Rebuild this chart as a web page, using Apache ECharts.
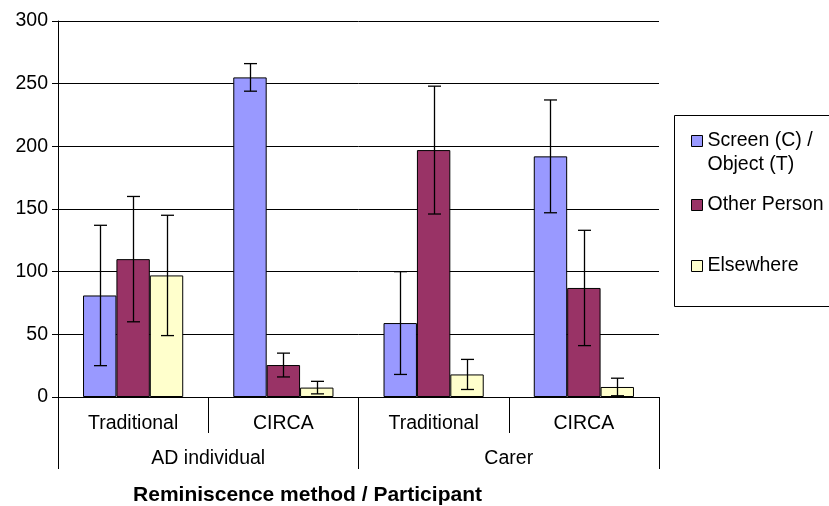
<!DOCTYPE html>
<html>
<head>
<meta charset="utf-8">
<script src="https://cdn.jsdelivr.net/npm/echarts@6/dist/echarts.min.js"></script>
<style>
html,body{margin:0;padding:0;background:#fff;}
#chart{width:829px;height:506px;}
</style>
</head>
<body>
<div id="chart"></div>
<script>
// ---- data ----
const methods = ['Traditional', 'CIRCA', 'Traditional', 'CIRCA'];
const participants = ['AD individual', 'Carer'];
const seriesNames = ['Screen (C) /\nObject (T)', 'Other Person', 'Elsewhere'];
const screenMean = [81, 255, 59, 192];
const screenErr  = [56, 11, 41, 45];
const otherMean  = [110, 25.5, 197, 87];
const otherErr   = [50, 9.5, 51, 46];
const elseMean   = [97, 7.5, 18, 8];
const elseErr    = [48, 5, 12, 7];
const yTicks = [0, 50, 100, 150, 200, 250, 300];
const xTitle = 'Reminiscence method / Participant';

const colors = ['#9999FF', '#993366', '#FFFFCC'];
const means = [screenMean, otherMean, elseMean];
const errs = [screenErr, otherErr, elseErr];

const FONT = 'Liberation Sans, Arial, sans-serif';
const FS = 19.5;

const errData = [];
means.forEach((m, s) => {
  m.forEach((v, j) => {
    errData.push([j, v - errs[s][j], v + errs[s][j], s]);
  });
});

const chart = echarts.init(document.getElementById('chart'), null, {renderer: 'canvas'});

const barSeries = means.map((m, s) => ({
  name: seriesNames[s],
  type: 'bar',
  xAxisIndex: 0,
  yAxisIndex: 0,
  data: m,
  barGap: '0%',
  barCategoryGap: '33.3%',
  itemStyle: {color: colors[s], borderColor: '#000', borderWidth: 1},
  emphasis: {disabled: true},
  animation: false
}));

const legendTops = [100, 188, 249];
const legends = seriesNames.map((n, s) => ({
  data: [n],
  left: 686,
  top: legendTops[s],
  orient: 'vertical',
  icon: 'rect',
  itemWidth: 11,
  itemHeight: 11,
  itemGap: 0,
  selectedMode: false,
  formatter: s === 0 ? function (name) { return '\n' + name; } : '{name}',
  itemStyle: {borderColor: '#000', borderWidth: 1},
  textStyle: {fontFamily: FONT, fontSize: FS, color: '#000', lineHeight: 24}
}));

chart.setOption({
  animation: false,
  backgroundColor: '#fff',
  grid: {left: 58, right: 170, top: 21, bottom: 109, containLabel: false, outerBoundsMode: 'none'},
  legend: legends,
  graphic: [{
    type: 'rect',
    shape: {x: 674.5, y: 115.5, width: 200, height: 191},
    style: {fill: '#fff', stroke: '#000', lineWidth: 1},
    z: -1
  }],
  xAxis: [{
    type: 'category',
    data: methods,
    position: 'bottom',
    axisLine: {show: true, lineStyle: {color: '#000', width: 1}},
    axisTick: {show: true, interval: 0, length: 36, lineStyle: {color: '#000', width: 1}},
    axisLabel: {interval: 0, margin: 17, fontFamily: FONT, fontSize: FS, color: '#000'},
    splitLine: {show: false}
  }, {
    type: 'category',
    data: participants,
    position: 'bottom',
    axisLine: {show: false},
    axisTick: {show: true, interval: 0, length: 72, lineStyle: {color: '#000', width: 1}},
    axisLabel: {interval: 0, margin: 52, fontFamily: FONT, fontSize: FS, color: '#000'},
    splitLine: {show: false},
    name: xTitle,
    nameLocation: 'middle',
    nameGap: 88,
    nameTextStyle: {fontFamily: FONT, fontSize: 21, fontWeight: 'bold', color: '#000', padding: [0, 102, 0, 0]}
  }],
  yAxis: {
    type: 'value',
    min: yTicks[0],
    max: yTicks[yTicks.length - 1],
    interval: 50,
    axisLine: {show: true, lineStyle: {color: '#000', width: 1}},
    axisTick: {show: true, length: 6, lineStyle: {color: '#000'}},
    axisLabel: {margin: 10, fontFamily: FONT, fontSize: FS, color: '#000'},
    splitLine: {show: true, lineStyle: {color: '#000', width: 1}}
  },
  series: barSeries.concat([{
    type: 'custom',
    name: 'errors',
    xAxisIndex: 0,
    yAxisIndex: 0,
    data: errData,
    z: 10,
    silent: true,
    encode: {x: 0, y: [1, 2]},
    renderItem: function (params, api) {
      const j = api.value(0);
      const s = api.value(3);
      const lo = api.coord([j, api.value(1)]);
      const hi = api.coord([j, api.value(2)]);
      const catW = api.size([1, 0])[0];
      const bw = catW * (1 - 0.333) / 3;
      const x = Math.round(lo[0] + (s - 1) * bw) + 0.5;
      const hw = 6.5;
      const st = {stroke: '#000', lineWidth: 1.3};
      return {
        type: 'group',
        children: [
          {type: 'line', shape: {x1: x, y1: hi[1], x2: x, y2: lo[1]}, style: st},
          {type: 'line', shape: {x1: x - hw, y1: hi[1], x2: x + hw, y2: hi[1]}, style: st},
          {type: 'line', shape: {x1: x - hw, y1: lo[1], x2: x + hw, y2: lo[1]}, style: st}
        ]
      };
    }
  }])
});
</script>
</body>
</html>
